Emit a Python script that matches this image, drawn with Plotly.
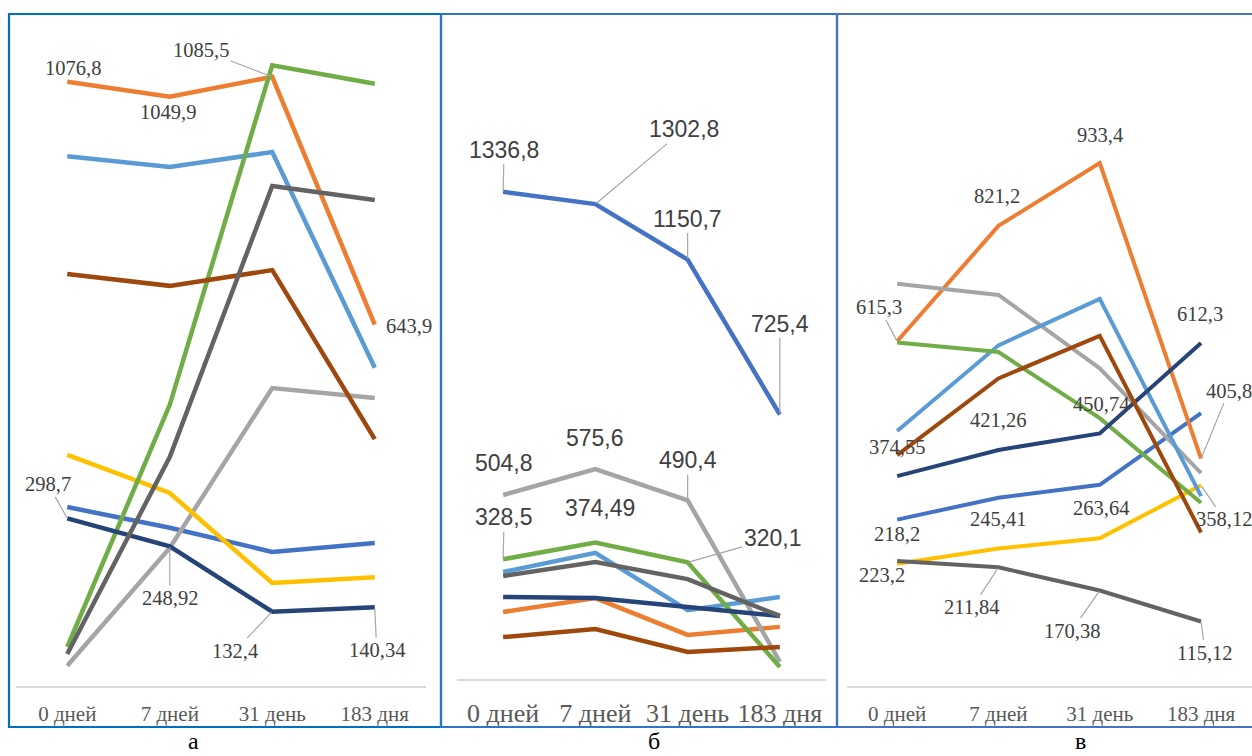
import plotly.graph_objects as go

W, H = 1252, 756

categories = ["0 дней", "7 дней", "31 день", "183 дня"]

# Panel а
a_blue = [319, 282, 239, 255]
a_orange = [1076.8, 1049.9, 1085.5, 643.9]
a_gray = [36, 246, 531, 513]
a_yellow = [412, 344, 183.5, 194]
a_lightblue = [944, 925, 951.5, 567]
a_green = [69.5, 501, 1106, 1073]
a_navy = [298.7, 248.92, 132.4, 140.34]
a_brown = [734, 713, 741, 440]
a_darkgray = [57, 408, 891, 866]

# Panel б
b_blue = [1336.8, 1302.8, 1150.7, 725.4]
b_orange = [184, 222, 121, 143]
b_gray = [504.8, 575.6, 490.4, 47]
b_lightblue = [293.5, 346, 189, 225]
b_green = [328.5, 374.49, 320.1, 33]
b_navy = [225, 222, 197.5, 173]
b_brown = [115, 137, 74, 88]
b_darkgray = [282.6, 321, 274, 173]

# Panel в
c_blue = [297, 336, 359, 487]
c_orange = [615.3, 821.2, 933.4, 405.8]
c_gray = [718, 698, 567, 380]
c_yellow = [218.2, 245.41, 263.64, 358.12]
c_lightblue = [455, 608, 691, 339]
c_green = [613, 596, 478, 327]
c_navy = [374.55, 421.26, 450.74, 612.3]
c_brown = [412, 549, 625, 274]
c_darkgray = [223.2, 211.84, 170.38, 115.12]

panel_titles = ["а", "б", "в"]

COLORS = {
    "blue": "#4472C4", "orange": "#ED7D31", "gray": "#A5A5A5", "yellow": "#FFC000",
    "lightblue": "#5B9BD5", "green": "#70AD47", "navy": "#264478", "brown": "#9E480E",
    "darkgray": "#636363",
}


def fx(p):
    return p / W


def fy(p):
    return 1 - p / H


def fmt(v):
    return str(v).replace(".", ",")


panels = [
    dict(
        series={"blue": a_blue, "orange": a_orange, "gray": a_gray, "yellow": a_yellow,
                "lightblue": a_lightblue, "green": a_green, "navy": a_navy,
                "brown": a_brown, "darkgray": a_darkgray},
        plot_x=(16, 426), plot_top=20, base=686, ppu=0.5612, lw=4.5,
        border=(9, 441), border_color="#0070C0",
        label_font=dict(family="Liberation Serif", size=20.5, color="#404040"),
        tick_font=dict(family="Liberation Serif", size=21, color="#595959"),
        ticklen=8,
        title_x=193,
        labels=[
            ("orange", 0, 6, -14, False),
            ("orange", 1, -2, 15, False),
            ("orange", 2, -71, -27, True),
            ("orange", 3, 34, 1, False),
            ("navy", 0, -19, -34, True),
            ("navy", 1, 0, 52, True),
            ("navy", 2, -37, 39, True),
            ("navy", 3, 2, 43, True),
        ],
    ),
    dict(
        series={"blue": b_blue, "orange": b_orange, "gray": b_gray,
                "lightblue": b_lightblue, "green": b_green, "navy": b_navy,
                "brown": b_brown, "darkgray": b_darkgray},
        plot_x=(457, 826), plot_top=20, base=679, ppu=0.3645, lw=4.5,
        border=(441, 837), border_color="#2E75C6",
        label_font=dict(family="Liberation Sans", size=23, color="#404040"),
        tick_font=dict(family="Liberation Serif", size=26, color="#595959"),
        ticklen=10,
        title_x=654,
        labels=[
            ("blue", 0, 1, -42, True),
            ("blue", 1, 89, -75, True),
            ("blue", 2, 0, -41, True),
            ("blue", 3, 0, -91, True),
            ("gray", 0, 1, -32, False),
            ("gray", 1, 0, -31, False),
            ("gray", 2, 0, -40, True),
            ("green", 0, 1, -42, True),
            ("green", 1, 5, -35, False),
            ("green", 2, 85, -24, True),
        ],
    ),
    dict(
        series={"blue": c_blue, "orange": c_orange, "gray": c_gray, "yellow": c_yellow,
                "lightblue": c_lightblue, "green": c_green, "navy": c_navy,
                "brown": c_brown, "darkgray": c_darkgray},
        plot_x=(846.5, 1251.7), plot_top=20, base=686, ppu=0.5603, lw=4,
        border=(837, 1262), border_color="#4472C4",
        label_font=dict(family="Liberation Serif", size=20.5, color="#404040"),
        tick_font=dict(family="Liberation Serif", size=21, color="#595959"),
        ticklen=8,
        title_x=1080,
        labels=[
            ("orange", 0, -18, -34, True),
            ("orange", 1, -1, -30, False),
            ("orange", 2, 0, -28, False),
            ("orange", 3, 28, -68, True),
            ("navy", 0, 0, -29, False),
            ("navy", 1, 0, -30, False),
            ("navy", 2, 1, -29, False),
            ("navy", 3, -1, -29, False),
            ("yellow", 0, 0, -30, False),
            ("yellow", 1, 0, -30, False),
            ("yellow", 2, 1, -30, False),
            ("yellow", 3, 23, 34, True),
            ("darkgray", 0, -15, 14, False),
            ("darkgray", 1, -26, 40, True),
            ("darkgray", 2, -28, 40, True),
            ("darkgray", 3, 4, 31, True),
        ],
    ),
]

fig = go.Figure()
annotations = []
shapes = []
layout_axes = {}

for i, p in enumerate(panels):
    n = "" if i == 0 else str(i + 1)
    xref, yref = "x" + n, "y" + n
    for name, vals in p["series"].items():
        fig.add_trace(go.Scatter(
            x=categories, y=vals, mode="lines", name=name,
            line=dict(color=COLORS[name], width=p["lw"]),
            xaxis=xref, yaxis=yref, showlegend=False, hoverinfo="skip",
        ))

    ymax = (p["base"] - p["plot_top"]) / p["ppu"]
    layout_axes["xaxis" + n] = dict(
        domain=[fx(p["plot_x"][0]), fx(p["plot_x"][1])], anchor=yref,
        type="category", range=[-0.5, 3.5], showgrid=False, zeroline=False,
        showline=True, linecolor="#D9D9D9", linewidth=1.5,
        ticks="outside", ticklen=p["ticklen"], tickcolor="rgba(0,0,0,0)",
        tickfont=p["tick_font"], fixedrange=True,
    )
    layout_axes["yaxis" + n] = dict(
        domain=[fy(p["base"]), fy(p["plot_top"])], anchor=xref,
        range=[0, ymax], showgrid=False, zeroline=False, showline=False,
        showticklabels=False, ticks="", fixedrange=True,
    )

    for name, idx, dx, dy, leader in p["labels"]:
        v = p["series"][name][idx]
        ann = dict(xref=xref, yref=yref, x=categories[idx], y=v, text=fmt(v),
                   font=p["label_font"])
        if leader:
            ann.update(showarrow=True, arrowhead=0, arrowwidth=1.2,
                       arrowcolor="#A6A6A6", ax=dx, ay=dy, standoff=1)
        else:
            ann.update(showarrow=False, xshift=dx, yshift=-dy)
        annotations.append(ann)

    shapes.append(dict(type="rect", xref="paper", yref="paper",
                       x0=fx(p["border"][0]), x1=fx(p["border"][1]),
                       y0=fy(727), y1=fy(14),
                       line=dict(color=p["border_color"], width=2.2),
                       fillcolor="rgba(0,0,0,0)", layer="above"))

    # panel letter under each chart, kept inside the bottom edge
    annotations.append(dict(xref="paper", yref="paper", x=fx(p["title_x"]), y=fy(755),
                            text=panel_titles[i], showarrow=False, borderpad=0,
                            font=dict(family="Liberation Serif", size=24, color="#000000"),
                            xanchor="center", yanchor="bottom"))

fig.update_layout(
    width=W, height=H, margin=dict(l=0, r=0, t=0, b=0),
    paper_bgcolor="white", plot_bgcolor="white",
    annotations=annotations, shapes=shapes, showlegend=False,
    **layout_axes,
)

fig.write_html("out.html")
